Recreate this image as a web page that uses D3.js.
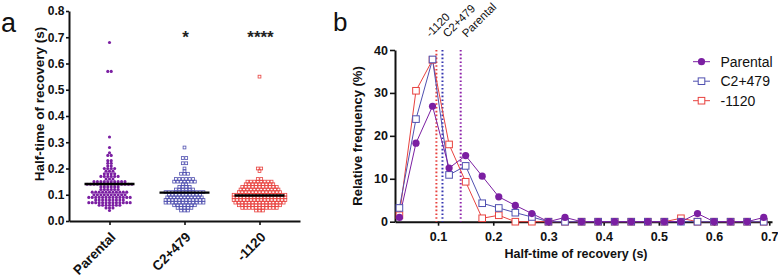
<!DOCTYPE html>
<html><head><meta charset="utf-8">
<script src="https://cdn.jsdelivr.net/npm/d3@7"></script>
<style>
body{margin:0;background:#fff}
svg{display:block}
text{font-family:"Liberation Sans",Arial,Helvetica,sans-serif}
</style>
</head><body>
<svg id="c" width="778" height="278"></svg>
<script>
// ---------- data: panel a (scatter / dot plot) ----------
const categories = ["Parental", "C2+479", "-1120"];
const colors = ["#7B1FA2", "#5050B0", "#E8423F"];
const lineColors = ["#8E24AA", "#3535B0", "#E8423F"];

const parentalValues = [0.04,0.05,0.06,0.07,0.08,0.09,0.10,0.11,0.12,0.13,0.14,0.15,0.16,0.17,0.18,0.19,0.20,0.21,0.22,0.23,0.25,0.26,0.28,0.32,0.57,0.68];
const parentalCounts = [1,3,7,13,9,13,10,11,6,6,14,10,3,6,4,3,4,2,2,2,2,1,1,1,2,1];

const c2Values = [0.04,0.05,0.06,0.07,0.08,0.09,0.10,0.11,0.12,0.13,0.14,0.15,0.16,0.18,0.19,0.20,0.22,0.24,0.28];
const c2Counts = [3,5,7,12,12,11,10,12,6,4,2,7,6,3,1,1,2,2,1];

const m1120Values = [0.04,0.05,0.06,0.07,0.08,0.09,0.10,0.11,0.12,0.13,0.14,0.15,0.16,0.19,0.20,0.55];
const m1120Counts = [3,11,13,15,16,16,16,13,12,11,9,8,2,1,2,1];

const groupMeans = [0.141, 0.108, 0.097];
const significance = ["", "*", "****"];
const yTicksA = [0, 0.1, 0.2, 0.3, 0.4, 0.5, 0.6, 0.7, 0.8];

// ---------- data: panel b (frequency distribution) ----------
const binCenters = [0.03,0.06,0.09,0.12,0.15,0.18,0.21,0.24,0.27,0.30,0.33,0.36,0.39,0.42,0.45,0.48,0.51,0.54,0.57,0.60,0.63,0.66,0.69];
const parentalFreq = [1.0,18.3,26.9,12.5,15.4,10.6,5.8,3.8,1.9,0,1.0,0,0,0,0,0,0,0,1.9,0,0,0,1.0];
const c2Freq       = [3.2,23.9,37.8,10.9,13.0,4.3,3.2,2.1,1.1,0,0,0,0,0,0,0,0,0,0,0,0,0,0];
const m1120Freq    = [1.5,30.5,37.7,18.0,9.3,0.8,1.5,0,0,0,0,0,0,0,0,0,0,0.8,0,0,0,0,0];
const xTicksB = [0.1, 0.2, 0.3, 0.4, 0.5, 0.6, 0.7];
const yTicksB = [0, 10, 20, 30, 40];

const svg = d3.select("#c");
const FONT = '"Liberation Sans",Arial,sans-serif';

// ======================= PANEL A =======================
const ya = d3.scaleLinear().domain([0, 0.8]).range([221, 11]);
const xa = d3.scalePoint().domain(categories).range([69, 300]).padding(0.54);

const gA = svg.append("g");
const yAxA = gA.append("g").attr("transform", "translate(69,0)")
  .call(d3.axisLeft(ya).tickValues(yTicksA).tickFormat(d3.format(".1f")).tickSize(3).tickSizeOuter(0).tickPadding(1.5));
yAxA.select(".domain").attr("stroke", "#111").attr("stroke-width", 2);
yAxA.selectAll(".tick line").attr("stroke", "#111").attr("stroke-width", 1.6);
yAxA.selectAll(".tick text").attr("font-size", 12).attr("font-weight", "bold").attr("fill", "#111")
  .style("font-family", FONT);

const xAxA = gA.append("g").attr("transform", "translate(0,221)")
  .call(d3.axisBottom(xa).tickSize(4).tickSizeOuter(0).tickFormat(""));
xAxA.select(".domain").attr("stroke", "#111").attr("stroke-width", 2);
xAxA.selectAll(".tick line").attr("stroke", "#111").attr("stroke-width", 1.6);

gA.selectAll(".catlab").data(categories).enter().append("text")
  .attr("class", "catlab")
  .attr("transform", d => `translate(${xa(d) + 7},${238}) rotate(-45)`)
  .attr("text-anchor", "end")
  .attr("font-size", 13.5).attr("font-weight", "bold").attr("fill", "#111")
  .text(d => d);

gA.append("text")
  .attr("transform", "translate(44,104) rotate(-90)")
  .attr("text-anchor", "middle")
  .attr("font-size", 13.5).attr("font-weight", "bold").attr("fill", "#111")
  .text("Half-time of recovery (s)");

gA.append("text").attr("x", 1).attr("y", 32).attr("font-size", 27).attr("fill", "#111").text("a");

const groups = [
  {vals: parentalValues, counts: parentalCounts, shape: "circle"},
  {vals: c2Values, counts: c2Counts, shape: "square"},
  {vals: m1120Values, counts: m1120Counts, shape: "square"}
];
const spacing = 3.45;
groups.forEach((g, gi) => {
  const pts = [];
  g.vals.forEach((v, k) => {
    const n = g.counts[k];
    for (let i = 0; i < n; i++) pts.push({v, off: (i - (n - 1) / 2) * spacing});
  });
  const cx = xa(categories[gi]);
  const layer = gA.append("g");
  if (g.shape === "circle") {
    layer.selectAll("circle").data(pts).enter().append("circle")
      .attr("cx", d => cx + d.off).attr("cy", d => ya(d.v)).attr("r", 1.55)
      .attr("fill", colors[gi]);
  } else {
    layer.selectAll("rect").data(pts).enter().append("rect")
      .attr("x", d => cx + d.off - 1.4).attr("y", d => ya(d.v) - 1.4)
      .attr("width", 2.8).attr("height", 2.8)
      .attr("fill", "none").attr("stroke", colors[gi]).attr("stroke-width", 0.8);
  }
  layer.append("line")
    .attr("x1", cx - 25).attr("x2", cx + 25)
    .attr("y1", ya(groupMeans[gi])).attr("y2", ya(groupMeans[gi]))
    .attr("stroke", "#000").attr("stroke-width", 2.4);
  if (significance[gi]) {
    gA.append("text").attr("x", cx + 1).attr("y", 43).attr("text-anchor", "middle")
      .attr("font-size", 17).attr("font-weight", "bold").attr("fill", "#222")
      .text(significance[gi]);
  }
});

// ======================= PANEL B =======================
const xb = d3.scaleLinear().domain([0.022, 0.705]).range([395, 772]);
const yb = d3.scaleLinear().domain([0, 40]).range([221.7, 50]);
const gB = svg.append("g");

const yAxB = gB.append("g").attr("transform", "translate(395,0)")
  .call(d3.axisLeft(yb).tickValues(yTicksB).tickSize(5).tickSizeOuter(0).tickPadding(2));
yAxB.select(".domain").attr("stroke", "#111").attr("stroke-width", 2);
yAxB.selectAll(".tick line").attr("stroke", "#111").attr("stroke-width", 1.6);
yAxB.selectAll(".tick text").attr("font-size", 12.5).attr("font-weight", "bold").attr("fill", "#111")
  .style("font-family", FONT);

const xAxB = gB.append("g").attr("transform", "translate(0,221.7)")
  .call(d3.axisBottom(xb).tickValues(xTicksB).tickFormat(d3.format(".1f")).tickSize(4).tickSizeOuter(0).tickPadding(6));
xAxB.select(".domain").attr("stroke", "#111").attr("stroke-width", 2);
xAxB.selectAll(".tick line").attr("stroke", "#111").attr("stroke-width", 1.6);
xAxB.selectAll(".tick text").attr("font-size", 12.5).attr("font-weight", "bold").attr("fill", "#111")
  .style("font-family", FONT);

gB.append("text").attr("x", 576).attr("y", 258).attr("text-anchor", "middle")
  .attr("font-size", 12.5).attr("font-weight", "bold").attr("fill", "#111")
  .text("Half-time of recovery (s)");
gB.append("text")
  .attr("transform", "translate(362,136) rotate(-90)")
  .attr("text-anchor", "middle")
  .attr("font-size", 13).attr("font-weight", "bold").attr("fill", "#111")
  .text("Relative frequency (%)");
gB.append("text").attr("x", 333).attr("y", 31).attr("font-size", 26).attr("fill", "#111").text("b");

// dotted mean lines
const meanOrder = [2, 1, 0];
meanOrder.forEach(gi => {
  gB.append("line")
    .attr("x1", xb(groupMeans[gi])).attr("x2", xb(groupMeans[gi]))
    .attr("y1", yb(40)).attr("y2", yb(0))
    .attr("stroke", lineColors[gi]).attr("stroke-width", 2)
    .attr("stroke-dasharray", "1.6,2.2");
});
// rotated labels for mean lines
let lastX = -1e9;
const labelShift = [-6, 3, 6];
meanOrder.forEach((gi, k) => {
  let lx = xb(groupMeans[gi]) + labelShift[k];
  if (lx < lastX + 17) lx = lastX + 17;
  lastX = lx;
  gB.append("text")
    .attr("transform", `translate(${lx},38) rotate(-45)`)
    .attr("font-size", 11.5).attr("fill", "#111")
    .text(categories[gi]);
});

const series = [
  {name: categories[2], vals: m1120Freq, color: colors[2], shape: "square"},
  {name: categories[1], vals: c2Freq, color: colors[1], shape: "square"},
  {name: categories[0], vals: parentalFreq, color: colors[0], shape: "circle"}
];
const line = d3.line().x((d, i) => xb(binCenters[i])).y(d => yb(d));
series.forEach(s => {
  gB.append("path").datum(s.vals).attr("d", line)
    .attr("fill", "none").attr("stroke", s.color).attr("stroke-width", 1);
});
series.forEach(s => {
  const L = gB.append("g");
  if (s.shape === "circle") {
    L.selectAll("circle").data(s.vals).enter().append("circle")
      .attr("cx", (d, i) => xb(binCenters[i])).attr("cy", d => yb(d)).attr("r", 3.6)
      .attr("fill", s.color);
  } else {
    L.selectAll("rect").data(s.vals).enter().append("rect")
      .attr("x", (d, i) => xb(binCenters[i]) - 3.3).attr("y", d => yb(d) - 3.3)
      .attr("width", 6.6).attr("height", 6.6)
      .attr("fill", "#fff").attr("stroke", s.color).attr("stroke-width", 1);
  }
});

// legend
const legendItems = [0, 1, 2];
legendItems.forEach((gi, k) => {
  const ly = 61.7 + k * 19.5;
  const lg = gB.append("g");
  lg.append("line").attr("x1", 693).attr("x2", 710).attr("y1", ly).attr("y2", ly)
    .attr("stroke", colors[gi]).attr("stroke-width", 1);
  if (gi === 0) {
    lg.append("circle").attr("cx", 701.5).attr("cy", ly).attr("r", 3.6).attr("fill", colors[gi]);
  } else {
    lg.append("rect").attr("x", 698.2).attr("y", ly - 3.3).attr("width", 6.6).attr("height", 6.6)
      .attr("fill", "#fff").attr("stroke", colors[gi]).attr("stroke-width", 1);
  }
  lg.append("text").attr("x", 720.5).attr("y", ly + 5).attr("font-size", 14).attr("fill", "#111")
    .text(categories[gi]);
});
</script>
</body></html>
